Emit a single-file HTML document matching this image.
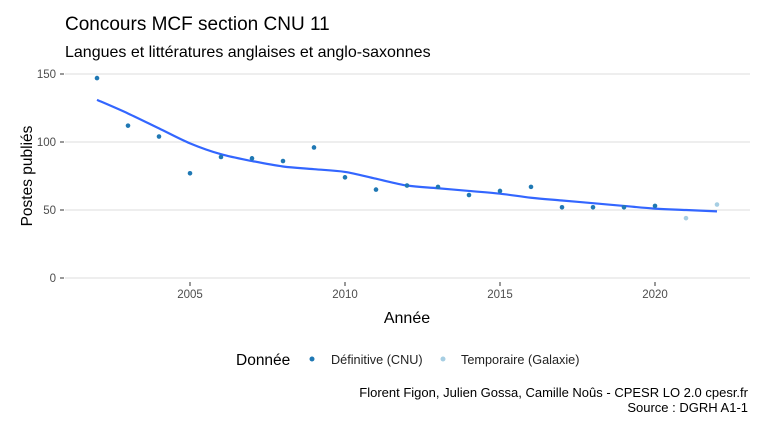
<!DOCTYPE html>
<html><head><meta charset="utf-8"><style>
body{margin:0;background:#fff;font-family:"Liberation Sans",sans-serif}
svg text{font-family:"Liberation Sans",sans-serif}
</style></head><body>
<svg width="768" height="432">
<text x="65" y="30" font-size="19" fill="#000">Concours MCF section CNU 11</text>
<text x="65" y="57" font-size="16" fill="#000">Langues et littératures anglaises et anglo-saxonnes</text>
<g id="grid"></g><g id="ticks"></g><g id="marks"></g>
<text x="407" y="323" font-size="16" text-anchor="middle">Année</text>
<text transform="translate(32,176) rotate(-90)" font-size="15.5" text-anchor="middle">Postes publiés</text>
<g>
<text x="236" y="365" font-size="15.5">Donnée</text>
<circle cx="312" cy="359" r="2.5" fill="#1f78b4"/>
<text x="331" y="364" font-size="12.7" fill="#222">Définitive (CNU)</text>
<circle cx="443" cy="359" r="2.5" fill="#a6cee3"/>
<text x="461" y="364" font-size="12.7" fill="#222">Temporaire (Galaxie)</text>
</g>
<text x="748" y="397" font-size="13" text-anchor="end">Florent Figon, Julien Gossa, Camille Noûs - CPESR LO 2.0 cpesr.fr</text>
<text x="748" y="412" font-size="13" text-anchor="end">Source : DGRH A1-1</text>
</svg>
<script>
const years=[2002,2003,2004,2005,2006,2007,2008,2009,2010,2011,2012,2013,2014,2015,2016,2017,2018,2019,2020,2021,2022];
const postes=[147,112,104,77,89,88,86,96,74,65,68,67,61,64,67,52,52,52,53,44,54];
const status=["d","d","d","d","d","d","d","d","d","d","d","d","d","d","d","d","d","d","d","t","t"];
const smooth=[131,121,110,99,91,86,82,80,78,73,68,66,64,62,59,57,55,53,51,50,49];
const yTicks=[0,50,100,150];
const xTicks=[2005,2010,2015,2020];
const NS="http://www.w3.org/2000/svg";
const X=v=>190+(v-2005)*31, Y=v=>278-v*1.36;
function mk(t,a,p){const e=document.createElementNS(NS,t);for(const k in a)e.setAttribute(k,a[k]);document.getElementById(p).appendChild(e);return e;}
yTicks.forEach(t=>{
 const l=mk("line",{x1:65,x2:750,y1:Y(t),y2:Y(t),stroke:"#dcdcdc","stroke-width":1},"grid");
 
 
 const tk=mk("line",{x1:60,x2:64,y1:Y(t),y2:Y(t),stroke:"#333"},"ticks");
 
 
 const tx=mk("text",{x:56,y:Y(t)+4,"font-size":11.5,"text-anchor":"end",fill:"#4d4d4d"},"ticks");
 tx.textContent=t;
 
 
});
xTicks.forEach(t=>{
 const tk=mk("line",{x1:X(t),x2:X(t),y1:282,y2:286,stroke:"#333"},"ticks");
 
 
 const tx=mk("text",{x:X(t),y:298,"font-size":11.5,"text-anchor":"middle",fill:"#4d4d4d"},"ticks");
 tx.textContent=t;
 
 
});
const pts=years.map((y,i)=>[X(y),Y(smooth[i])]);
let d="M"+pts[0][0]+","+pts[0][1];
for(let i=0;i<pts.length-1;i++){const p0=pts[Math.max(0,i-1)],p1=pts[i],p2=pts[i+1],p3=pts[Math.min(pts.length-1,i+2)];
 d+=` C${p1[0]+(p2[0]-p0[0])/6},${p1[1]+(p2[1]-p0[1])/6} ${p2[0]-(p3[0]-p1[0])/6},${p2[1]-(p3[1]-p1[1])/6} ${p2[0]},${p2[1]}`;}
const path=mk("path",{d:d,fill:"none",stroke:"#3366ff","stroke-width":2.2},"marks");


years.forEach((y,i)=>{
 const c=mk("circle",{cx:X(y),cy:Y(postes[i]),r:2.3,fill:status[i]=="d"?"#1f78b4":"#a6cee3"},"marks");
 
 
});
</script>
</body></html>
